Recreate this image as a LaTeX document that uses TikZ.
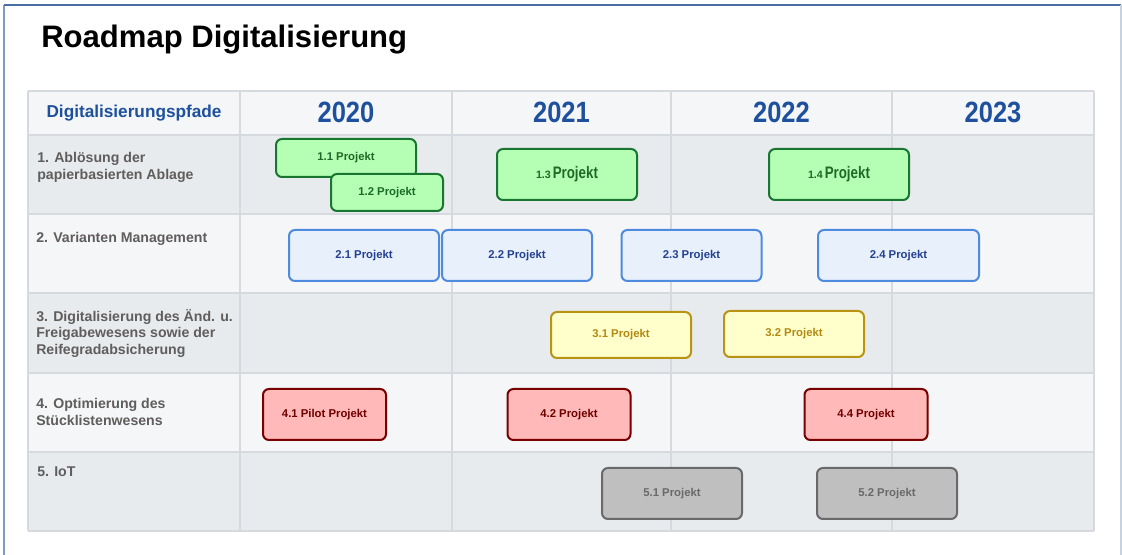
\documentclass[tikz,border=0pt]{standalone}
\usepackage{fontspec}
\setmainfont{Liberation Sans}
\definecolor{rahmenLinks}{RGB}{125,155,195}
\definecolor{rahmenOben}{RGB}{75,110,165}
\definecolor{rahmenRechts}{RGB}{200,210,222}
\definecolor{zeileHell}{RGB}{244,246,248}
\definecolor{zeileDunkel}{RGB}{232,235,238}
\definecolor{gitter}{RGB}{214,218,223}
\definecolor{jahrBlau}{RGB}{30,80,158}
\definecolor{pfadText}{RGB}{96,93,92}
\definecolor{gruenFill}{RGB}{180,255,180}
\definecolor{gruenRand}{RGB}{25,118,48}
\definecolor{gruenText}{RGB}{30,105,40}
\definecolor{blauFill}{RGB}{232,240,251}
\definecolor{blauRand}{RGB}{78,138,222}
\definecolor{blauText}{RGB}{35,65,145}
\definecolor{gelbFill}{RGB}{255,255,204}
\definecolor{gelbRand}{RGB}{185,148,20}
\definecolor{gelbText}{RGB}{178,138,20}
\definecolor{rotFill}{RGB}{255,185,185}
\definecolor{rotRand}{RGB}{120,0,0}
\definecolor{rotText}{RGB}{110,0,0}
\definecolor{grauFill}{RGB}{191,191,191}
\definecolor{grauRand}{RGB}{105,105,105}
\definecolor{grauText}{RGB}{105,105,105}
\newcommand{\jahr}[1]{\scalebox{0.87}[1]{#1}}
\newcommand{\gross}[1]{{\fontsize{8}{9}\selectfont #1}\,\scalebox{0.8}[1]{\fontsize{12.5}{13}\selectfont Projekt}}
\begin{document}
\begin{tikzpicture}[x=0.75pt,y=-0.75pt,
  box/.style={rounded corners=4.5pt,line width=1.5pt,inner sep=0pt,font=\fontsize{8.5}{9}\selectfont\bfseries},
  gruen/.style={box,draw=gruenRand,fill=gruenFill,text=gruenText},
  blau/.style={box,draw=blauRand,fill=blauFill,text=blauText},
  gelb/.style={box,draw=gelbRand,fill=gelbFill,text=gelbText},
  rot/.style={box,draw=rotRand,fill=rotFill,text=rotText},
  grau/.style={box,draw=grauRand,fill=grauFill,text=grauText},
  normal/.style={minimum width=105pt,minimum height=38.25pt},
  pfad/.style={anchor=north west,align=left,inner sep=0pt,text=pfadText,font=\fontsize{10.6}{12.4}\selectfont\bfseries},
  jahr/.style={inner sep=0pt,text=jahrBlau,font=\fontsize{22}{22}\selectfont\bfseries}]
\useasboundingbox (0,0) rectangle (1122,555);
\fill[white] (0,0) rectangle (1122,555);
% Rahmen
\draw[line width=1.5pt,rahmenLinks] (4,555) -- (4,5);
\draw[line width=1.5pt,rahmenOben] (4,5) -- (1121,5);
\draw[line width=1pt,rahmenRechts] (1121,5) -- (1121,555);
\node[anchor=base west,inner sep=0pt,font=\fontsize{23.3}{24}\selectfont\bfseries] (titel) at (41,48) {Roadmap Digitalisierung};
% Tabelle
\fill[zeileHell] (28,91) rectangle (1094,135);
\fill[zeileDunkel] (28,135) rectangle (1094,214);
\fill[zeileHell] (28,214) rectangle (1094,293);
\fill[zeileDunkel] (28,293) rectangle (1094,373);
\fill[zeileHell] (28,373) rectangle (1094,452);
\fill[zeileDunkel] (28,452) rectangle (1094,531);
\foreach \y in {91,135,214,293,373,452,531}
  \draw[line width=1.2pt,gitter] (28,\y) -- (1094,\y);
\foreach \x in {28,240,452,671,892,1094}
  \draw[line width=1.2pt,gitter] (\x,91) -- (\x,531);
\node[inner sep=0pt,text=jahrBlau,font=\fontsize{12.9}{13}\selectfont\bfseries] (kopf) at (134,113) {Digitalisierungspfade};
\node[jahr] (j2020) at (346,112) {\jahr{2020}};
\node[jahr] (j2021) at (561.5,112) {\jahr{2021}};
\node[jahr] (j2022) at (781.5,112) {\jahr{2022}};
\node[jahr] (j2023) at (993,112) {\jahr{2023}};
\node[pfad] (pfad1) at (37,152) {1. Ablösung der\\papierbasierten Ablage};
\node[pfad] (pfad2) at (36,232) {2. Varianten Management};
\node[pfad] (pfad3) at (36,309) {3. Digitalisierung des Änd. u.\\Freigabewesens sowie der\\Reifegradabsicherung};
\node[pfad] (pfad4) at (36,398) {4. Optimierung des\\Stücklistenwesens};
\node[pfad] (pfad5) at (37,467) {5. IoT};
% Projekte
\node[gruen,minimum width=105pt,minimum height=28.5pt] (p11) at (346,158) {1.1 Projekt};
\node[gruen,minimum width=84pt,minimum height=27.75pt] (p12) at (387,192.5) {1.2 Projekt};
\node[gruen,normal] (p13) at (567,174.5) {\gross{1.3}};
\node[gruen,normal] (p14) at (839,174.5) {\gross{1.4}};
\node[blau,normal,minimum width=112.5pt] (p21) at (364,255.5) {2.1 Projekt};
\node[blau,normal,minimum width=112.5pt] (p22) at (517,255.5) {2.2 Projekt};
\node[blau,normal] (p23) at (691.5,255.5) {2.3 Projekt};
\node[blau,normal,minimum width=120.75pt] (p24) at (898.5,255.5) {2.4 Projekt};
\node[gelb,normal,minimum height=34.5pt] (p31) at (621,335) {3.1 Projekt};
\node[gelb,normal,minimum height=34.5pt] (p32) at (794,334) {3.2 Projekt};
\node[rot,normal,minimum width=92.25pt] (p41) at (324.5,414.5) {4.1 Pilot Projekt};
\node[rot,normal,minimum width=92.25pt] (p42) at (569,414.5) {4.2 Projekt};
\node[rot,normal,minimum width=92.25pt] (p44) at (866,414.5) {4.4 Projekt};
\node[grau,normal] (p51) at (672,493.5) {5.1 Projekt};
\node[grau,normal] (p52) at (887,493.5) {5.2 Projekt};
\end{tikzpicture}
\end{document}
